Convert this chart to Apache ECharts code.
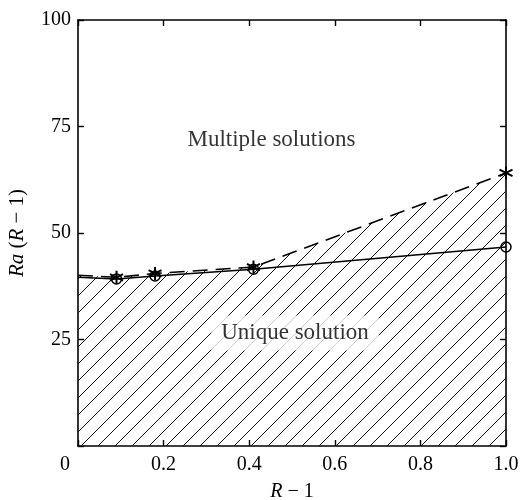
<!DOCTYPE html>
<html><head><meta charset="utf-8">
<script src="https://cdn.jsdelivr.net/npm/echarts@6/dist/echarts.min.js"></script>
<style>html,body{margin:0;padding:0;background:#fff}#c{width:520px;height:500px}</style>
</head><body><div id="c"></div>
<script>
// Data
const xValues = [0, 0.09, 0.18, 0.41, 1.0];
const lowerBranch = [39.6, 39.2, 39.9, 41.5, 46.7];   // solid line, circles
const upperBranch = [40.1, 39.6, 40.5, 42.0, 64.1];   // dashed line, asterisks
const xTicks = [0, 0.2, 0.4, 0.6, 0.8, 1.0];
const yTicks = [0, 25, 50, 75, 100];
const regionLabels = [
  {name: 'Multiple solutions', x: 0.452, y: 71.8},
  {name: 'Unique solution', x: 0.507, y: 26.5}
];

// hatch pattern
function hatch(){
  const s = 17, c = document.createElement('canvas');
  c.width = s; c.height = s;
  const g = c.getContext('2d');
  g.strokeStyle = '#111'; g.lineWidth = 1;
  g.beginPath();
  g.moveTo(0, s); g.lineTo(s, 0);
  g.moveTo(-2, 2); g.lineTo(2, -2);
  g.moveTo(s-2, s+2); g.lineTo(s+2, s-2);
  g.stroke();
  return c;
}
const FONT = 'Liberation Serif';
const starPath = 'path://M0,-10L0,10M-8.66,-5L8.66,5M-8.66,5L8.66,-5';
const chart = echarts.init(document.getElementById('c'), null, {renderer:'canvas'});
const pairs = a => xValues.map((x,i)=>[x,a[i]]);
const axLine = {show:true,onZero:false,lineStyle:{color:'#000',width:1.6}};
const axTick = {show:true,inside:true,length:6,lineStyle:{color:'#000',width:1.4}};
chart.setOption({
  animation:false,
  backgroundColor:'#fff',
  grid:{left:78,right:14,top:20,bottom:54,containLabel:false,outerBoundsMode:'none'},
  xAxis:[{
    type:'value',min:0,max:1,interval:0.2,
    axisLine:axLine, axisTick:axTick, splitLine:{show:false},
    axisLabel:{color:'#000',fontFamily:FONT,fontSize:20,margin:9,
      formatter:v=> v===0 ? '{z|0}' : v.toFixed(1),
      rich:{z:{fontFamily:FONT,fontSize:20,color:'#000',padding:[0,26,0,0]}}},
    name:'{i|R} − 1',nameLocation:'middle',nameGap:36,
    nameTextStyle:{color:'#000',fontFamily:FONT,fontSize:20,
      rich:{i:{fontFamily:FONT,fontSize:20,fontStyle:'italic',color:'#000'}}}
  },{
    type:'value',position:'top',min:0,max:1,interval:0.2,
    axisLine:axLine, axisTick:axTick,
    axisLabel:{show:false},splitLine:{show:false}
  }],
  yAxis:[{
    type:'value',min:0,max:100,interval:25,
    axisLine:axLine, axisTick:axTick, splitLine:{show:false},
    axisLabel:{color:'#000',fontFamily:FONT,fontSize:20,margin:7,
      formatter:v=> v===0 ? '' : String(v)},
    name:'{i|Ra} ({i|R} − 1)',nameLocation:'middle',nameGap:50,nameRotate:90,
    nameTextStyle:{color:'#000',fontFamily:FONT,fontSize:21,
      rich:{i:{fontFamily:FONT,fontSize:21,fontStyle:'italic',color:'#000'}}}
  },{
    type:'value',position:'right',min:0,max:100,interval:25,
    axisLine:axLine, axisTick:axTick,
    axisLabel:{show:false},splitLine:{show:false}
  }],
  series:[
    {type:'line',data:pairs(upperBranch),z:2,
      lineStyle:{color:'#000',width:1.6,type:[15,8]},
      areaStyle:{color:{image:hatch(),repeat:'repeat'},opacity:1,origin:'start'},
      symbol:(v)=> v[0]===0 ? 'none' : starPath, symbolSize:13,
      itemStyle:{color:'none',borderColor:'#000',borderWidth:2}},
    {type:'line',data:pairs(lowerBranch),z:3,
      lineStyle:{color:'#000',width:1.5},
      symbol:(v)=> v[0]===0 ? 'none' : 'circle', symbolSize:10,
      itemStyle:{color:'transparent',borderColor:'#000',borderWidth:1.5}},
    {type:'scatter',z:5,symbolSize:0,silent:true,
      data:regionLabels.map(d=>({name:d.name,value:[d.x,d.y]})),
      label:{show:true,position:'inside',formatter:p=>p.name,color:'#000',
        fontFamily:FONT,fontSize:23,
        backgroundColor:'#fff',padding:[6,10]}}
  ]
});
</script></body></html>
